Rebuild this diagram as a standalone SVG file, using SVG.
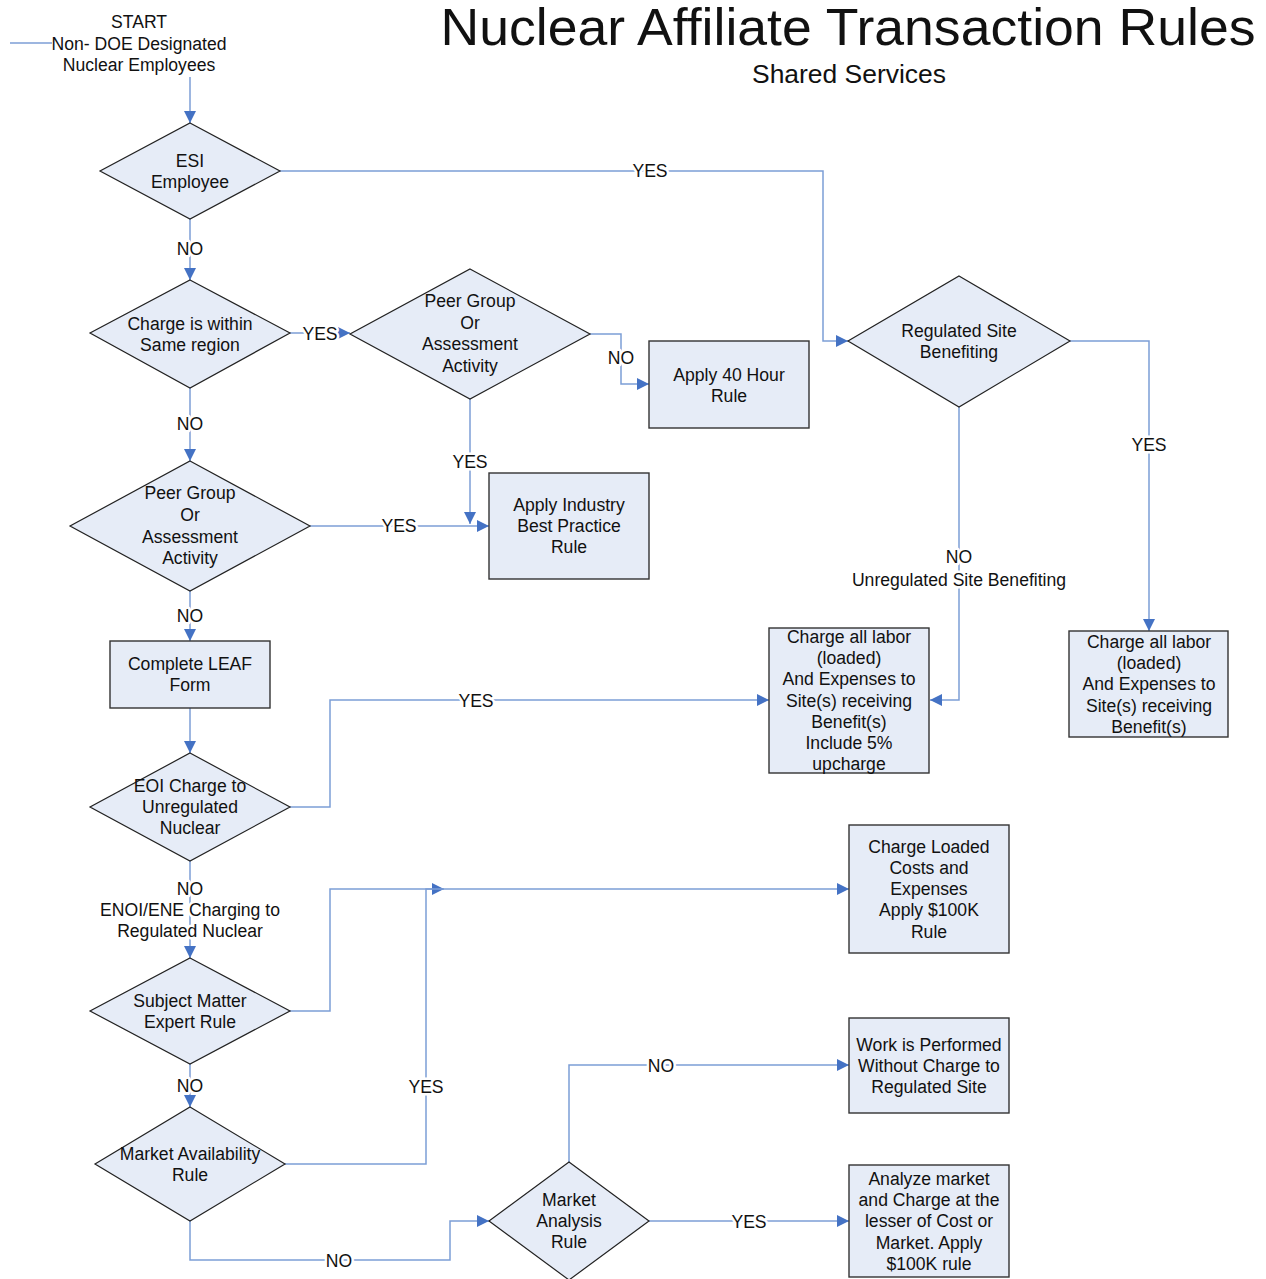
<svg xmlns="http://www.w3.org/2000/svg" width="1266" height="1279" viewBox="0 0 1266 1279">
<style>
text{font-family:"Liberation Sans",Arial,sans-serif;font-size:17.6px;fill:#111;text-anchor:middle}
text.title{font-size:52px}
text.sub{font-size:25px}
.node{fill:#E6ECF7;stroke:#222;stroke-width:1.2}
.box{fill:#E6ECF7;stroke:#333;stroke-width:1.4}
.conn{fill:none;stroke:#7C9ED6;stroke-width:1.5}
.lbl{stroke:#fff;stroke-width:5;paint-order:stroke;stroke-linejoin:round}
</style>
<defs>
<marker id="arr" markerUnits="userSpaceOnUse" markerWidth="14" markerHeight="12" refX="12" refY="6" orient="auto">
<path d="M0,0 L12,6 L0,12 Z" fill="#4472C4"/>
</marker>
</defs>
<rect width="1266" height="1279" fill="#fff"/>
<g id="title">
<text class="title" x="848" y="45" textLength="815" lengthAdjust="spacingAndGlyphs">Nuclear Affiliate Transaction Rules</text>
<text class="sub" x="849" y="83" textLength="194" lengthAdjust="spacingAndGlyphs">Shared Services</text>
</g>
<g id="connectors">
<path class="conn" d="M10 43 H52"/>
<path class="conn" d="M190 77 V123" marker-end="url(#arr)"/>
<path class="conn" d="M280 171 H823 V341 H848" marker-end="url(#arr)"/>
<path class="conn" d="M190 219 V280" marker-end="url(#arr)"/>
<path class="conn" d="M290 333 H350" marker-end="url(#arr)"/>
<path class="conn" d="M590 334 H621 V384 H649" marker-end="url(#arr)"/>
<path class="conn" d="M470 399 V524" marker-end="url(#arr)"/>
<path class="conn" d="M190 388 V461" marker-end="url(#arr)"/>
<path class="conn" d="M310 526 H489" marker-end="url(#arr)"/>
<path class="conn" d="M190 591 V641" marker-end="url(#arr)"/>
<path class="conn" d="M190 708 V753" marker-end="url(#arr)"/>
<path class="conn" d="M290 807 H330 V700 H769" marker-end="url(#arr)"/>
<path class="conn" d="M190 861 V958" marker-end="url(#arr)"/>
<path class="conn" d="M290 1011 H330 V889 H444" marker-end="url(#arr)"/>
<path class="conn" d="M285 1164 H426 V889 H849" marker-end="url(#arr)"/>
<path class="conn" d="M190 1064 V1107" marker-end="url(#arr)"/>
<path class="conn" d="M190 1221 V1260 H450 V1221 H489" marker-end="url(#arr)"/>
<path class="conn" d="M569 1162 V1065 H849" marker-end="url(#arr)"/>
<path class="conn" d="M649 1221 H849" marker-end="url(#arr)"/>
<path class="conn" d="M959 407 V700 H930" marker-end="url(#arr)"/>
<path class="conn" d="M1070 341 H1149 V631" marker-end="url(#arr)"/>
<text class="lbl" x="650" y="177">YES</text>
<text class="lbl" x="190" y="255">NO</text>
<text class="lbl" x="320" y="340">YES</text>
<text class="lbl" x="621" y="364">NO</text>
<text class="lbl" x="190" y="430">NO</text>
<text class="lbl" x="470" y="468">YES</text>
<text class="lbl" x="399" y="532">YES</text>
<text class="lbl" x="190" y="622">NO</text>
<text class="lbl" x="476" y="707">YES</text>
<text class="lbl" x="190" y="895">NO</text>
<text class="lbl" x="190" y="916">ENOI/ENE Charging to</text>
<text class="lbl" x="190" y="937">Regulated Nuclear</text>
<text class="lbl" x="190" y="1092">NO</text>
<text class="lbl" x="426" y="1093">YES</text>
<text class="lbl" x="339" y="1267">NO</text>
<text class="lbl" x="661" y="1072">NO</text>
<text class="lbl" x="749" y="1228">YES</text>
<text class="lbl" x="959" y="563">NO</text>
<text class="lbl" x="959" y="586">Unregulated Site Benefiting</text>
<text class="lbl" x="1149" y="451">YES</text>
</g>
<g id="start">
<text x="139" y="28">START</text>
<text x="139" y="50">Non- DOE Designated</text>
<text x="139" y="71">Nuclear Employees</text>
</g>
<g id="esi">
<polygon class="node" points="190,123 280,171 190,219 100,171"/>
<text x="190" y="167">ESI</text>
<text x="190" y="188">Employee</text>
</g>
<g id="same-region">
<polygon class="node" points="190,280 290,333 190,388 90,333"/>
<text x="190" y="330">Charge is within</text>
<text x="190" y="351">Same region</text>
</g>
<g id="peer-group-1">
<polygon class="node" points="470,269 590,334 470,399 350,334"/>
<text x="470" y="307">Peer Group</text>
<text x="470" y="329">Or</text>
<text x="470" y="350">Assessment</text>
<text x="470" y="372">Activity</text>
</g>
<g id="apply-40">
<rect class="box" x="649" y="341" width="160" height="87"/>
<text x="729" y="381">Apply 40 Hour</text>
<text x="729" y="402">Rule</text>
</g>
<g id="peer-group-2">
<polygon class="node" points="190,461 310,526 190,591 70,526"/>
<text x="190" y="499">Peer Group</text>
<text x="190" y="521">Or</text>
<text x="190" y="543">Assessment</text>
<text x="190" y="564">Activity</text>
</g>
<g id="apply-industry">
<rect class="box" x="489" y="473" width="160" height="106"/>
<text x="569" y="511">Apply Industry</text>
<text x="569" y="532">Best Practice</text>
<text x="569" y="553">Rule</text>
</g>
<g id="leaf">
<rect class="box" x="110" y="641" width="160" height="67"/>
<text x="190" y="670">Complete LEAF</text>
<text x="190" y="691">Form</text>
</g>
<g id="eoi">
<polygon class="node" points="190,753 290,807 190,861 90,807"/>
<text x="190" y="792">EOI Charge to</text>
<text x="190" y="813">Unregulated</text>
<text x="190" y="834">Nuclear</text>
</g>
<g id="charge-labor-5">
<rect class="box" x="769" y="628" width="160" height="145"/>
<text x="849" y="643">Charge all labor</text>
<text x="849" y="664">(loaded)</text>
<text x="849" y="685">And Expenses to</text>
<text x="849" y="707">Site(s) receiving</text>
<text x="849" y="728">Benefit(s)</text>
<text x="849" y="749">Include 5%</text>
<text x="849" y="770">upcharge</text>
</g>
<g id="regulated-site">
<polygon class="node" points="959,276 1070,341 959,407 848,341"/>
<text x="959" y="337">Regulated Site</text>
<text x="959" y="358">Benefiting</text>
</g>
<g id="charge-labor">
<rect class="box" x="1069" y="631" width="159" height="106"/>
<text x="1149" y="648">Charge all labor</text>
<text x="1149" y="669">(loaded)</text>
<text x="1149" y="690">And Expenses to</text>
<text x="1149" y="712">Site(s) receiving</text>
<text x="1149" y="733">Benefit(s)</text>
</g>
<g id="charge-loaded">
<rect class="box" x="849" y="825" width="160" height="128"/>
<text x="929" y="853">Charge Loaded</text>
<text x="929" y="874">Costs  and</text>
<text x="929" y="895">Expenses</text>
<text x="929" y="916">Apply $100K</text>
<text x="929" y="938">Rule</text>
</g>
<g id="sme">
<polygon class="node" points="190,958 290,1011 190,1064 90,1011"/>
<text x="190" y="1007">Subject Matter</text>
<text x="190" y="1028">Expert Rule</text>
</g>
<g id="market-availability">
<polygon class="node" points="190,1107 285,1164 190,1221 95,1164"/>
<text x="190" y="1160">Market Availability</text>
<text x="190" y="1181">Rule</text>
</g>
<g id="market-analysis">
<polygon class="node" points="569,1162 649,1221 569,1280 489,1221"/>
<text x="569" y="1206">Market</text>
<text x="569" y="1227">Analysis</text>
<text x="569" y="1248">Rule</text>
</g>
<g id="work-performed">
<rect class="box" x="849" y="1018" width="160" height="95"/>
<text x="929" y="1051">Work is Performed</text>
<text x="929" y="1072">Without Charge to</text>
<text x="929" y="1093">Regulated Site</text>
</g>
<g id="analyze-market">
<rect class="box" x="849" y="1165" width="160" height="112"/>
<text x="929" y="1185">Analyze market</text>
<text x="929" y="1206">and Charge at the</text>
<text x="929" y="1227">lesser of Cost or</text>
<text x="929" y="1249">Market. Apply</text>
<text x="929" y="1270">$100K rule</text>
</g>
</svg>
